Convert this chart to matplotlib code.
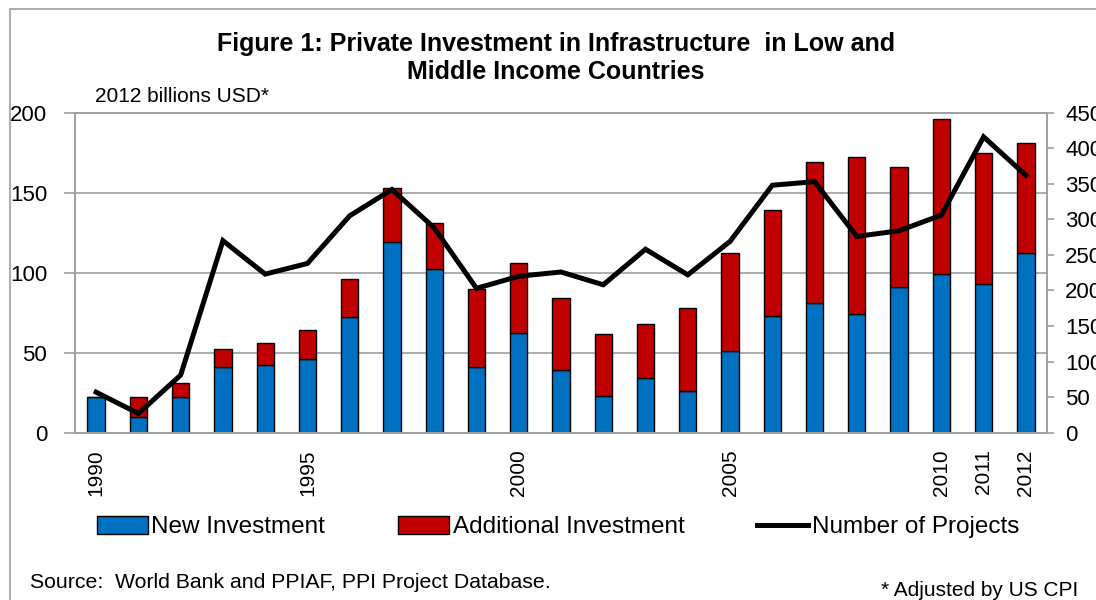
import matplotlib
matplotlib.use("Agg")
import matplotlib.pyplot as plt
import matplotlib.patches as mpatches
import numpy as np

plt.rcParams['font.family'] = ['Liberation Sans', 'DejaVu Sans']

# values
years = [1990, 1991, 1992, 1993, 1994, 1995, 1996, 1997, 1998, 1999, 2000, 2001,
         2002, 2003, 2004, 2005, 2006, 2007, 2008, 2009, 2010, 2011, 2012]
new_investment = [22, 10, 22, 41, 42, 46, 72, 119, 102, 41, 62, 39,
                  23, 34, 26, 51, 73, 81, 74, 91, 99, 93, 112]
additional_investment = [0, 12, 9, 11, 14, 18, 24, 34, 29, 49, 44, 45,
                         39, 34, 52, 61, 66, 88, 98, 75, 97, 82, 69]
num_projects = [57, 27, 81, 270, 223, 238, 305, 342, 288, 203, 220, 226,
                208, 258, 222, 269, 348, 353, 276, 284, 306, 416, 362]
label_years = [1990, 1995, 2000, 2005, 2010, 2011, 2012]

BLUE = "#0070C0"
RED = "#C00000"
GRAY = "#A0A0A0"

fig = plt.figure(figsize=(10.96, 6.0), dpi=100)
# outer chart frame
fig.patches.append(mpatches.Rectangle((10 / 1096, -0.1), 1.2, 1.1 - 9 / 600,
                                      transform=fig.transFigure, fill=False,
                                      edgecolor=GRAY, linewidth=1.2))

ax = fig.add_axes([75 / 1096, 1 - 432.7 / 600, 972 / 1096, 320 / 600])
x = np.arange(len(years))
w = 0.41
ax.bar(x, new_investment, w, color=BLUE, edgecolor="black", linewidth=1.0,
       label="New Investment", zorder=2)
ax.bar(x, additional_investment, w, bottom=new_investment, color=RED,
       edgecolor="black", linewidth=1.0, label="Additional Investment", zorder=2)

ax.set_xlim(-0.5, len(years) - 0.5)
ax.set_ylim(0, 200)
ax.set_yticks(np.arange(0, 201, 50))
ax.yaxis.grid(True, color=GRAY, linewidth=1.2)
ax.set_axisbelow(True)
ax.tick_params(axis='y', labelsize=16, length=8, width=1.2, color=GRAY, pad=12)
ax.set_xticks([years.index(y) for y in label_years])
ax.set_xticklabels([str(y) for y in label_years], rotation=90, fontsize=15)
ax.tick_params(axis='x', length=0, pad=12)
for s in ax.spines.values():
    s.set_color(GRAY)
    s.set_linewidth(1.2)

ax2 = ax.twinx()
ax2.plot(x, num_projects, color="black", linewidth=3.6, label="Number of Projects",
         solid_joinstyle='miter', zorder=3)
ax2.set_ylim(0, 450)
ax2.set_yticks(np.arange(0, 451, 50))
ax2.tick_params(axis='y', labelsize=16, length=5, width=1.2, color=GRAY, pad=8)
for s in ax2.spines.values():
    s.set_color(GRAY)
    s.set_linewidth(1.2)

fig.text(556 / 1096, 1 - 44 / 600,
         "Figure 1: Private Investment in Infrastructure  in Low and",
         ha='center', va='center', fontsize=18, fontweight='bold')
fig.text(556 / 1096, 1 - 72 / 600, "Middle Income Countries",
         ha='center', va='center', fontsize=18, fontweight='bold')
fig.text(95 / 1096, 1 - 96 / 600, "2012 billions USD*", ha='left', va='center', fontsize=15)

h1, l1 = ax.get_legend_handles_labels()
h2, l2 = ax2.get_legend_handles_labels()
fig.legend(h1 + h2, l1 + l2, loc='center', bbox_to_anchor=(558 / 1096, 1 - 527 / 600),
           ncol=3, frameon=False, fontsize=17.5, handlelength=2.1, handleheight=0.75,
           handletextpad=0.15, columnspacing=3.0)

fig.text(30 / 1096, 1 - 582 / 600, "Source:  World Bank and PPIAF, PPI Project Database.",
         ha='left', va='center', fontsize=15.3)
fig.text(1078 / 1096, 1 - 590 / 600, "* Adjusted by US CPI", ha='right', va='center', fontsize=15)

fig.savefig("out.png", dpi=100)
